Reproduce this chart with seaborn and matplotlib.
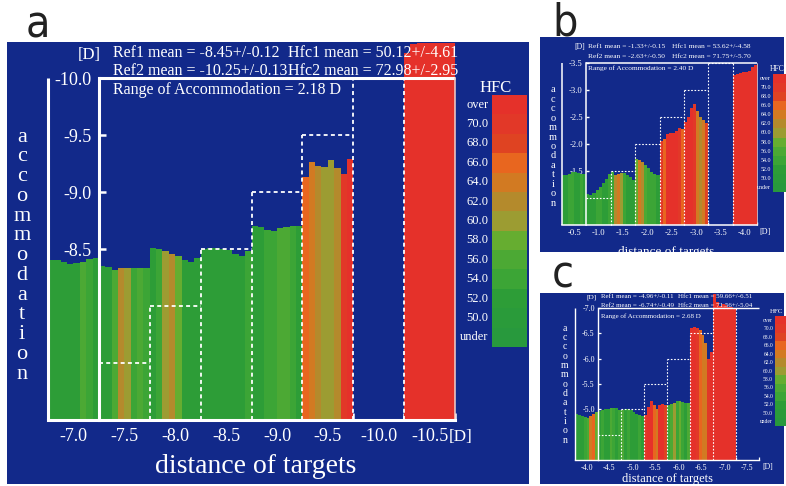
import numpy as np
import pandas as pd
import matplotlib
matplotlib.use('Agg')
import matplotlib.pyplot as plt
from matplotlib.colors import ListedColormap
from matplotlib.patches import Rectangle
import seaborn as sns

sns.set_theme(style='white')
plt.rcParams['font.family'] = ['Liberation Serif', 'DejaVu Serif']

W, H = 786, 486
NAVY = '#12298a'

# HFC colour scale, top to bottom
hfc_labels = ['over', '70.0', '68.0', '66.0', '64.0', '62.0', '60.0',
              '58.0', '56.0', '54.0', '52.0', '50.0', 'under']
hfc_colors = ['#e5312a', '#e23828', '#df4322', '#e8661f', '#d27a22', '#b48a2c',
              '#9c9c32', '#66ad30', '#4ca934', '#3ca536', '#2d9d37', '#2a9b3a', '#28993d']

# ---- panel a ----
a_targets = ['-7.0', '-7.5', '-8.0', '-8.5', '-9.0', '-9.5', '-10.0', '-10.5']
a_steps = [None, -7.5, -8.0, -8.5, -9.0, -9.5, -10.0, None]
a_yticks = [-10.0, -9.5, -9.0, -8.5, -8.0, -7.5]
a_acc = [
    [-8.40, -8.40, -8.39, -8.37, -8.38, -8.39, -8.41, -8.42],
    [-8.35, -8.34, -8.32, -8.33, -8.33, -8.33, -8.33, -8.33],
    [-8.51, -8.50, -8.48, -8.46, -8.44, -8.40, -8.39, -8.42],
    [-8.50, -8.51, -8.51, -8.50, -8.49, -8.46, -8.44, -8.48],
    [-8.70, -8.69, -8.67, -8.66, -8.68, -8.69, -8.70, -8.70],
    [-9.13, -9.26, -9.23, -9.22, -9.28, -9.21, -9.16, -9.29],
    [],
    [-10.22, -10.30, -10.31, -10.31, -10.31, -10.31, -10.31, -10.31],
]
a_hfc = [
    [52, 52, 52, 52, 53, 56, 54, 52],
    [52, 52, 56, 62, 60, 54, 56, 54],
    [52, 54, 60, 62, 58, 52, 52, 52],
    [52, 52, 52, 52, 53, 52, 52, 54],
    [52, 52, 54, 54, 56, 56, 54, 52],
    [66, 65, 62, 61, 60, 62, 70, 72],
    [],
    [72, 72, 72, 72, 72, 72, 72, 72],
]
a_header = ['Ref1 mean = -8.45+/-0.12', 'Hfc1 mean = 50.12+/-4.61',
            'Ref2 mean = -10.25+/-0.13', 'Hfc2 mean = 72.98+/-2.95',
            'Range of Accommodation = 2.18 D']

# ---- panel b ----
b_targets = ['-0.5', '-1.0', '-1.5', '-2.0', '-2.5', '-3.0', '-3.5', '-4.0']
b_steps = [None, -1.0, -1.5, -2.0, -2.5, -3.0, -3.5, None]
b_yticks = [-3.5, -3.0, -2.5, -2.0, -1.5, -1.0]
b_acc = [
    [-1.42, -1.42, -1.44, -1.48, -1.48, -1.46, -1.45, -1.44],
    [-1.07, -1.06, -1.10, -1.14, -1.20, -1.28, -1.36, -1.45],
    [-1.49, -1.42, -1.45, -1.47, -1.46, -1.42, -1.38, -1.34],
    [-1.73, -1.71, -1.67, -1.62, -1.55, -1.49, -1.45, -1.42],
    [-2.05, -2.10, -2.19, -2.20, -2.21, -2.24, -2.30, -2.27],
    [-2.40, -2.50, -2.66, -2.74, -2.62, -2.50, -2.44, -2.38],
    [],
    [-3.27, -3.30, -3.32, -3.33, -3.33, -3.36, -3.42, -3.47],
]
b_hfc = [
    [52, 52, 54, 54, 52, 52, 54, 52],
    [52, 52, 52, 54, 54, 52, 52, 54],
    [54, 62, 64, 60, 54, 52, 52, 52],
    [58, 64, 62, 56, 54, 54, 54, 52],
    [70, 66, 72, 72, 72, 72, 70, 66],
    [72, 72, 72, 70, 64, 62, 64, 68],
    [],
    [72, 72, 72, 72, 72, 72, 72, 72],
]
b_header = ['Ref1 mean = -1.33+/-0.15', 'Hfc1 mean = 53.62+/-4.58',
            'Ref2 mean = -2.63+/-0.50', 'Hfc2 mean = 71.75+/-5.70',
            'Range of Accommodation = 2.40 D']

# ---- panel c ----
c_targets = ['-4.0', '-4.5', '-5.0', '-5.5', '-6.0', '-6.5', '-7.0', '-7.5']
c_steps = [None, -4.5, -5.0, -5.5, -6.0, -6.5, -7.0, None]
c_yticks = [-7.0, -6.5, -6.0, -5.5, -5.0, -4.5]
c_acc = [
    [-4.90, -4.88, -4.86, -4.84, -4.82, -4.86, -4.91, -4.94],
    [-4.97, -4.99, -5.00, -5.01, -5.02, -5.03, -5.02, -4.99],
    [-4.98, -5.00, -5.01, -4.99, -4.95, -4.91, -4.88, -4.87],
    [-4.88, -5.05, -5.16, -5.08, -5.00, -5.08, -5.10, -5.08],
    [-5.08, -5.10, -5.12, -5.17, -5.16, -5.15, -5.13, -5.13],
    [-6.61, -6.62, -6.61, -6.57, -6.47, -6.30, -6.00, -6.14],
    [-7.28, -7.12, -7.04, -7.08, -7.05, -7.02, -7.01, -7.00],
    [],
]
c_hfc = [
    [52, 52, 52, 54, 56, 64, 66, 58],
    [52, 54, 52, 52, 56, 54, 52, 54],
    [56, 52, 54, 52, 52, 52, 54, 52],
    [70, 72, 72, 66, 64, 72, 72, 68],
    [54, 56, 60, 54, 58, 54, 52, 56],
    [72, 72, 70, 66, 64, 64, 70, 72],
    [72, 72, 72, 72, 72, 72, 72, 72],
    [],
]
c_header = ['Ref1 mean = -4.96+/-0.11', 'Hfc1 mean = 59.66+/-6.51',
            'Ref2 mean = -6.74+/-0.49', 'Hfc2 mean = 71.56+/-5.04',
            'Range of Accommodation = 2.68 D']

# pixel layout of each panel
LA = dict(box=(7, 42, 529, 484), x=(48, 455), ypx=(78, 420), vbot=-7.0,
          cbar=(492, 95, 527, 347), right=True, letter=('a', 38, 37),
          hfc_title=(496, 88), accom=(22, 137, 374), xlabel=(256, 466), xlabel_fs=20,
          d_top=(89, 55), d_right=(449, 437), hdr=(113, 288, 53, 71, 90), hdr_fs=11.5,
          tick_fs=13, accom_fs=16, cb_fs=9, title_fs=12,
          lw=2.2, tlen=5, tw=1.8, dlw=1.3, dash=(2.2, 1.8), xpad=6, ypad=5)
LB = dict(box=(540, 37, 784, 252), x=(562, 757), ypx=(63, 225), vbot=-0.5,
          cbar=(773, 74, 792, 192), right=True, letter=('b', 565, 36),
          hfc_title=(777, 69), accom=(553, 90, 203), xlabel=(666, 252), xlabel_fs=9.5,
          d_top=(580, 47), d_right=(759, 232), hdr=(588, 672, 46, 57, 68), hdr_fs=5.3,
          tick_fs=6.2, accom_fs=7.5, cb_fs=4.3, title_fs=5.5,
          lw=1.1, tlen=2.5, tw=1.0, dlw=0.8, dash=(1.5, 1.5), xpad=3, ypad=2.5)
LC = dict(box=(540, 293, 784, 484), x=(575, 759), ypx=(308, 460), vbot=-4.0,
          cbar=(775, 316, 794, 426), right=False, letter=('c', 563, 287),
          hfc_title=(777, 311), accom=(565, 328, 440), xlabel=(668, 479), xlabel_fs=9,
          d_top=(592, 297), d_right=(762, 467), hdr=(601, 678, 296, 305, 316), hdr_fs=5.0,
          tick_fs=5.8, accom_fs=7, cb_fs=4.0, title_fs=5.0,
          lw=1.0, tlen=2.3, tw=0.9, dlw=0.8, dash=(1.5, 1.5), xpad=3, ypad=2.3)


def hfc_level(v):
    if v >= 72:
        return 'over'
    if v < 50:
        return 'under'
    return '%.1f' % (2 * int(v // 2))


def frame(acc, hfc):
    rows = []
    for i, (vals, hs) in enumerate(zip(acc, hfc)):
        n = len(vals)
        for k, (v, h) in enumerate(zip(vals, hs)):
            rows.append((i - 0.5 + (k + 0.5) / n, v, hfc_level(h)))
    return pd.DataFrame(rows, columns=['pos', 'acc', 'level'])


def px_rect(x0, y0, x1, y1):
    return [x0 / W, 1 - y1 / H, (x1 - x0) / W, (y1 - y0) / H]


fig = plt.figure(figsize=(W / 100, H / 100), dpi=100)
fig.patch.set_facecolor('white')
bg = fig.add_axes([0, 0, 1, 1])
bg.set_xlim(0, W)
bg.set_ylim(H, 0)
bg.axis('off')

palette = dict(zip(hfc_labels, hfc_colors))
cmap = ListedColormap(hfc_colors)
texts = []


def draw_panel(acc, hfc, targets, steps, yticks, header, L):
    n = len(targets)
    bx0, by0, bx1, by1 = L['box']
    bg.add_patch(Rectangle((bx0, by0), bx1 - bx0, by1 - by0, color=NAVY, lw=0))
    ytop, ybot = L['ypx']
    vtop, vbot = yticks[0], L['vbot']
    per_px = (vbot - vtop) / (ybot - ytop)
    ylim_top = vtop - (ytop - by0) * per_px

    ax = fig.add_axes(px_rect(L['x'][0], by0, L['x'][1], ybot))
    ax.patch.set_visible(False)
    sns.barplot(data=frame(acc, hfc), x='pos', y='acc', hue='level',
                hue_order=hfc_labels, palette=palette, native_scale=True,
                dodge=False, width=1.0, saturation=1, errorbar=None,
                legend=False, linewidth=0, antialiased=False, ax=ax)
    ax.set_xlim(-0.5, n - 0.5)
    ax.set_ylim(vbot, ylim_top)
    ax.set_xlabel('')
    ax.set_ylabel('')

    lw = L['lw']
    ax.spines['top'].set_visible(False)
    ax.spines['right'].set_visible(False)
    ax.spines['left'].set_position(('data', 0.5))
    ax.spines['left'].set_bounds(vbot, vtop)
    ax.spines['bottom'].set_bounds(-0.5, n - 0.5)
    for side in ['left', 'bottom']:
        ax.spines[side].set_color('white')
        ax.spines[side].set_linewidth(lw)
        ax.spines[side].set_zorder(3)

    ax.set_yticks(yticks, ['%.1f' % t for t in yticks])
    ax.set_xticks([i + 0.5 for i in range(n)], [''] * n)
    ax.set_xticks(range(n), targets, minor=True)
    ax.tick_params(axis='y', left=True, direction='in', length=L['tlen'],
                   width=L['tw'], color='white', labelcolor='white',
                   labelsize=L['tick_fs'], pad=L['ypad'])
    ax.tick_params(axis='x', which='major', bottom=True, direction='in',
                   length=L['tlen'], width=L['tw'], color='white')
    ax.tick_params(axis='x', which='minor', bottom=True, length=0,
                   labelcolor='white', labelsize=L['tick_fs'], pad=L['xpad'])

    solid = dict(color='white', lw=lw, clip_on=False, solid_capstyle='butt')
    ax.plot([-0.5, -0.5], [vbot, vtop], **solid)
    ax.plot([0.5, n - 0.5], [vtop, vtop], **solid)
    if L['right']:
        ax.plot([n - 0.5, n - 0.5], [vbot, vtop], color='#f4d0c8',
                lw=lw * 0.5, clip_on=False)
    dash = dict(color='white', lw=L['dlw'], ls=(0, L['dash']), clip_on=False)
    for i, lev in enumerate(steps):
        if lev is None:
            continue
        ax.plot([i - 0.5, i + 0.5], [lev, lev], **dash)
        nxt = steps[i + 1] if i + 1 < n and steps[i + 1] is not None else vtop
        ax.plot([i + 0.5, i + 0.5], [vbot, min(lev, nxt)], **dash)

    # HFC colour key
    cx0, cy0, cx1, cy1 = L['cbar']
    cax = fig.add_axes(px_rect(cx0, cy0, cx1, cy1))
    sns.heatmap(np.arange(len(hfc_labels)).reshape(-1, 1), cmap=cmap,
                vmin=-0.5, vmax=len(hfc_labels) - 0.5, cbar=False,
                xticklabels=False, yticklabels=hfc_labels, ax=cax)
    cax.tick_params(axis='y', left=False, length=0, labelcolor='white',
                    labelsize=L['cb_fs'], pad=2 * L['lw'] / 2.2 + 0.5, labelrotation=0)

    # panel texts (pixel positions)
    letter, lx, ly = L['letter']
    texts.append(dict(x=lx, y=ly, s=letter, size=32, color='#222222', ha='center',
                      va='baseline', family=['DejaVu Sans'], stretch='condensed',
                      clip=None))
    hx1, hx2, hy1, hy2, hy3 = L['hdr']
    for x, y, s in [(hx1, hy1, header[0]), (hx2, hy1, header[1]),
                    (hx1, hy2, header[2]), (hx2, hy2, header[3]),
                    (hx1, hy3, header[4])]:
        texts.append(dict(x=x, y=y, s=s, size=L['hdr_fs'], color='white',
                          ha='left', va='center', clip=None))
    texts.append(dict(x=L['d_top'][0], y=L['d_top'][1], s='[D]', size=L['hdr_fs'] * 1.05,
                      color='white', ha='center', va='center', clip=None))
    texts.append(dict(x=L['d_right'][0], y=L['d_right'][1], s='[D]', size=L['tick_fs'] * 0.95,
                      color='white', ha='left', va='center', clip=None))
    tx, ty = L['hfc_title']
    texts.append(dict(x=tx, y=ty, s='HFC', size=L['title_fs'], color='white',
                      ha='center', va='center', clip=None))
    ax_, ay0, ay1 = L['accom']
    word = 'accommodation'
    for k, ch in enumerate(word):
        texts.append(dict(x=ax_, y=ay0 + k * (ay1 - ay0) / (len(word) - 1), s=ch,
                          size=L['accom_fs'], color='white', ha='center', va='center',
                          clip=None))
    texts.append(dict(x=L['xlabel'][0], y=L['xlabel'][1], s='distance of targets',
                      size=L['xlabel_fs'], color='white', ha='center', va='center',
                      clip=L['box']))


draw_panel(a_acc, a_hfc, a_targets, a_steps, a_yticks, a_header, LA)
draw_panel(b_acc, b_hfc, b_targets, b_steps, b_yticks, b_header, LB)
draw_panel(c_acc, c_hfc, c_targets, c_steps, c_yticks, c_header, LC)

fg = fig.add_axes([0, 0, 1, 1])
fg.set_xlim(0, W)
fg.set_ylim(H, 0)
fg.axis('off')
for t in texts:
    clip = t.pop('clip')
    fam = t.pop('family', None)
    obj = fg.text(t.pop('x'), t.pop('y'), t.pop('s'), **t)
    if fam is not None:
        obj.set_fontfamily(fam)
    if clip is not None:
        x0, y0, x1, y1 = clip
        obj.set_clip_path(Rectangle((x0, y0), x1 - x0, y1 - y0, transform=fg.transData))
        obj.set_clip_on(True)

fig.savefig('out.png', dpi=100, facecolor='white')
